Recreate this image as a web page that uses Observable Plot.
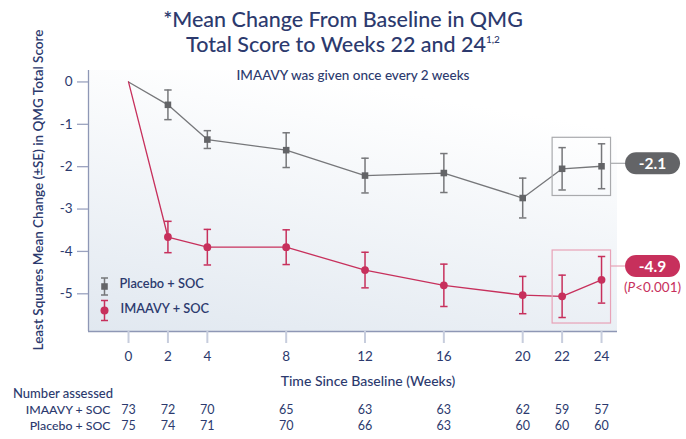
<!DOCTYPE html>
<html><head><meta charset="utf-8">
<script src="https://cdn.jsdelivr.net/npm/d3@7"></script>
<script src="https://cdn.jsdelivr.net/npm/@observablehq/plot@0.6"></script>
<style>
body{margin:0;background:#fff;font-family:Lato,"Noto Sans",sans-serif;}
#wrap{position:relative;width:686px;height:439px;}
#title{position:absolute;left:0;top:0;width:686px;box-sizing:border-box;padding-top:7px;text-align:center;color:#2c3a6e;font-size:21.5px;line-height:25px;font-weight:500;}
#title sup{font-size:10px;line-height:0;position:relative;top:-1px;}
</style></head><body>
<div id="wrap">
<div id="chart"></div>
<div id="title">*Mean Change From Baseline in QMG<br>Total Score to Weeks 22 and 24<sup>1,2</sup></div>
</div>
<script>
// ---- data ----
const weeks = [0, 2, 4, 8, 12, 16, 20, 22, 24];
const placeboMean = [0, -0.54, -1.36, -1.61, -2.21, -2.15, -2.74, -2.05, -1.99];
const placeboSE   = [0, 0.35, 0.21, 0.41, 0.41, 0.46, 0.47, 0.50, 0.53];
const imaavyMean  = [0, -3.66, -3.90, -3.90, -4.44, -4.80, -5.03, -5.06, -4.67];
const imaavySE    = [0, 0.37, 0.42, 0.41, 0.42, 0.50, 0.44, 0.50, 0.55];
const imaavyN   = [73, 72, 70, 65, 63, 63, 62, 59, 57];
const placeboN  = [75, 74, 71, 70, 66, 63, 60, 60, 60];
const seriesNames = ["Placebo + SOC", "IMAAVY + SOC"];
const highlightWeeks = [22, 24];
const highlightLabels = ["-2.1", "-4.9"];
const pValueLabel = ["(", "P", "<0.001)"];
const yTicks = [0, -1, -2, -3, -4, -5];
const subtitle = "IMAAVY was given once every 2 weeks";
const xLabel = "Time Since Baseline (Weeks)";
const yLabel = "Least Squares Mean Change (\u00b1SE) in QMG Total Score";
const tableTitle = "Number assessed";

// ---- styles ----
const navy = "#2c3a6e";
const gray = "#636467";
const grayBar = "#76777a";
const pink = "#c7305c";
const xDomain = [-2.03, 24.81];
const yDomain = [-5.89, 0.27];

const rows = [];
[[placeboMean, placeboSE], [imaavyMean, imaavySE]].forEach(([m, s], k) => {
  weeks.forEach((w, i) => rows.push({series: seriesNames[k], week: w, mean: m[i], se: s[i], low: m[i] - s[i], high: m[i] + s[i]}));
});
const pts = rows.filter(d => d.week > 0);
const imaavyCounts = weeks.map((w, i) => ({week: w, n: imaavyN[i]}));
const placeboCounts = weeks.map((w, i) => ({week: w, n: placeboN[i]}));

const cap = {draw(ctx, size) { const r = Math.sqrt(size / Math.PI); ctx.moveTo(-r, 0); ctx.lineTo(r, 0); }};
const errSym = (h, w) => ({draw(ctx) { ctx.moveTo(-w, -h); ctx.lineTo(w, -h); ctx.moveTo(0, -h); ctx.lineTo(0, h); ctx.moveTo(-w, h); ctx.lineTo(w, h); }});

const background = (index, scales, values, dim) => {
  const g = d3.create("svg:g");
  const grad = g.append("defs").append("linearGradient").attr("id", "plotBg")
    .attr("x1", "0.35").attr("y1", "0").attr("x2", "0").attr("y2", "1");
  grad.append("stop").attr("offset", "0").attr("stop-color", "#ffffff");
  grad.append("stop").attr("offset", "1").attr("stop-color", "#e1e8f0");
  g.append("rect").attr("x", dim.marginLeft).attr("y", dim.marginTop)
    .attr("width", dim.width - dim.marginLeft - dim.marginRight)
    .attr("height", dim.height - dim.marginTop - dim.marginBottom)
    .attr("fill", "url(#plotBg)");
  return g.node();
};

const annotate = (index, scales) => {
  const {x, y} = scales;
  const g = d3.create("svg:g");
  const cfg = [
    {color: gray, box: "#a9aaad", offset: 26},
    {color: pink, box: "#e8a2b7", offset: 16}
  ];
  seriesNames.forEach((name, k) => {
    const hp = rows.filter(d => d.series === name && highlightWeeks.includes(d.week));
    const x1 = x(d3.min(highlightWeeks)) - 9.5, x2 = x(d3.max(highlightWeeks)) + 9.5;
    const y1 = y(d3.max(hp, d => d.high)) - 6, y2 = y(d3.min(hp, d => d.low)) + 6;
    g.append("rect").attr("x", x1).attr("y", y1).attr("width", x2 - x1).attr("height", y2 - y1)
      .attr("fill", "none").attr("stroke", cfg[k].box).attr("stroke-width", 1.2);
    const py = y1 + cfg[k].offset, px = x2 + 14.5, pw = 55, ph = 22;
    g.append("line").attr("x1", x2).attr("x2", px).attr("y1", py).attr("y2", py)
      .attr("stroke", cfg[k].box).attr("stroke-width", 1.2);
    g.append("rect").attr("x", px).attr("y", py - ph / 2).attr("width", pw).attr("height", ph)
      .attr("rx", 11).attr("fill", cfg[k].color);
    g.append("text").attr("x", px + pw / 2).attr("y", py).attr("dy", "0.36em")
      .attr("text-anchor", "middle").attr("fill", "#fff").attr("font-size", 15.5).attr("font-weight", 700)
      .text(highlightLabels[k]);
    if (k === 1) {
      const t = g.append("text").attr("x", px + pw / 2).attr("y", py + 21).attr("dy", "0.36em")
        .attr("text-anchor", "middle").attr("fill", pink).attr("font-size", 13.5);
      t.append("tspan").text(pValueLabel[0]);
      t.append("tspan").attr("font-style", "italic").text(pValueLabel[1]);
      t.append("tspan").text(pValueLabel[2]);
    }
  });
  return g.node();
};

const chart = Plot.plot({
  width: 686, height: 439,
  marginTop: 70, marginBottom: 108, marginLeft: 88, marginRight: 69,
  style: {fontFamily: "Lato, 'Noto Sans', sans-serif", fontSize: "13px", color: navy, background: "#fff"},
  x: {domain: xDomain},
  y: {domain: yDomain},
  color: {domain: seriesNames, range: [grayBar, pink]},
  marks: [
    background,
    Plot.ruleX([xDomain[0]], {stroke: "#8e97b5", strokeWidth: 1.3}),
    Plot.ruleY([yDomain[0]], {stroke: "#8e97b5", strokeWidth: 1.3}),
    Plot.axisY(yTicks, {tickSize: 11, tickPadding: 5, tickFormat: d => `${d}`, stroke: "#9aa2bf", strokeWidth: 1.3, fill: navy, fontSize: 13.5, label: null}),
    Plot.axisX(weeks, {tickSize: 12, tickPadding: 8, tickFormat: d => `${d}`, stroke: "#c7cddd", strokeWidth: 2, fill: navy, fontSize: 13.5, label: null}),
    Plot.text([subtitle], {text: d => d, frameAnchor: "top", fill: navy, fontSize: 13.5, fontWeight: 500}),
    Plot.text([yLabel], {text: d => d, frameAnchor: "left", textAnchor: "middle", rotate: -90, dx: -50, dy: -11, fill: navy, fontSize: 13.5, fontWeight: 600}),
    Plot.text([xLabel], {text: d => d, frameAnchor: "bottom", dx: 15, dy: 54, fill: navy, fontSize: 14, fontWeight: 500}),
    Plot.text([tableTitle], {text: d => d, frameAnchor: "bottom-left", textAnchor: "start", dx: -75.5, dy: 66, fill: navy, fontSize: 13, fontWeight: 500}),
    Plot.text([seriesNames[1]], {text: d => d, frameAnchor: "bottom-left", textAnchor: "end", dx: 22, dy: 82, fill: navy, fontSize: 12.3, fontWeight: 500}),
    Plot.text([seriesNames[0]], {text: d => d, frameAnchor: "bottom-left", textAnchor: "end", dx: 22, dy: 98, fill: navy, fontSize: 12.3, fontWeight: 500}),
    Plot.text(imaavyCounts, {x: "week", text: "n", frameAnchor: "bottom", dy: 82, fill: navy, fontSize: 12.5}),
    Plot.text(placeboCounts, {x: "week", text: "n", frameAnchor: "bottom", dy: 98, fill: navy, fontSize: 12.5}),
    Plot.line(rows, {x: "week", y: "mean", z: "series", stroke: "series", strokeWidth: 1.3}),
    Plot.ruleX(pts, {x: "week", y1: "low", y2: "high", stroke: "series", strokeWidth: 1.5}),
    Plot.dot(pts, {x: "week", y: "low", symbol: cap, r: 3.7, stroke: "series", fill: "none", strokeWidth: 1.5}),
    Plot.dot(pts, {x: "week", y: "high", symbol: cap, r: 3.7, stroke: "series", fill: "none", strokeWidth: 1.5}),
    Plot.dot(pts.filter(d => d.series === seriesNames[0]), {x: "week", y: "mean", symbol: "square", r: 3.7, fill: gray}),
    Plot.dot(pts.filter(d => d.series === seriesNames[1]), {x: "week", y: "mean", symbol: "circle", r: 3.9, fill: pink}),
    annotate,
    // legend
    Plot.dot([seriesNames[0]], {frameAnchor: "bottom-left", dx: 16, dy: -45, symbol: errSym(8.5, 3.5), r: 4, stroke: grayBar, fill: "none", strokeWidth: 1.5}),
    Plot.dot([seriesNames[0]], {frameAnchor: "bottom-left", dx: 16, dy: -45, symbol: "square", r: 3.7, fill: gray}),
    Plot.dot([seriesNames[1]], {frameAnchor: "bottom-left", dx: 16, dy: -21, symbol: errSym(10, 3.5), r: 4, stroke: pink, fill: "none", strokeWidth: 1.5}),
    Plot.dot([seriesNames[1]], {frameAnchor: "bottom-left", dx: 16, dy: -21, symbol: "circle", r: 4, fill: pink}),
    Plot.text([seriesNames[0]], {text: d => d, frameAnchor: "bottom-left", textAnchor: "start", dx: 31, dy: -44, fill: navy, fontSize: 12.8, fontWeight: 600}),
    Plot.text([seriesNames[1]], {text: d => d, frameAnchor: "bottom-left", textAnchor: "start", dx: 32, dy: -19, fill: navy, fontSize: 12.8, fontWeight: 600})
  ]
});
document.getElementById("chart").appendChild(chart);
</script>
</body></html>
